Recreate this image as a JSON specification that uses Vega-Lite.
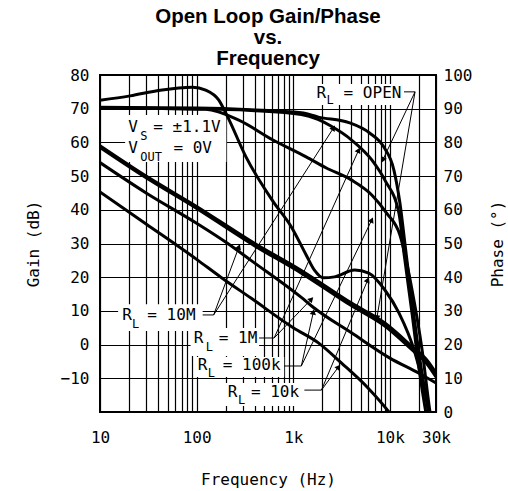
{
  "$schema": "https://vega.github.io/schema/vega-lite/v6.json",
  "width": 336,
  "height": 337,
  "autosize": {"type": "none"},
  "padding": {"left": 100, "top": 75, "right": 72, "bottom": 79},
  "background": "white",
  "config": {
    "view": {"stroke": "black", "strokeWidth": 2},
    "font": "DejaVu Sans Mono"
  },
  "title": {
    "text": ["Open Loop Gain/Phase", "vs.", "Frequency"],
    "font": "Liberation Sans",
    "fontSize": 20.5,
    "fontWeight": "bold",
    "lineHeight": 21,
    "offset": -2,
    "color": "black",
    "anchor": "middle"
  },
  "datasets": {
    "gain": [
      {"id": "10M", "f": 10, "g": 59}, {"id": "10M", "f": 30, "g": 50}, {"id": "10M", "f": 100, "g": 41},
      {"id": "10M", "f": 400, "g": 30}, {"id": "10M", "f": 1212, "g": 22}, {"id": "10M", "f": 4018, "g": 12.3},
      {"id": "10M", "f": 8870, "g": 6.4}, {"id": "10M", "f": 17000, "g": -0.6}, {"id": "10M", "f": 24000, "g": -4.5},
      {"id": "10M", "f": 30000, "g": -8.4},
      {"id": "1M", "f": 10, "g": 58.5}, {"id": "1M", "f": 30, "g": 49.5}, {"id": "1M", "f": 100, "g": 40.4},
      {"id": "1M", "f": 400, "g": 29.3}, {"id": "1M", "f": 1212, "g": 21.2}, {"id": "1M", "f": 4018, "g": 11.5},
      {"id": "1M", "f": 8870, "g": 5.5}, {"id": "1M", "f": 17000, "g": -1.6}, {"id": "1M", "f": 24000, "g": -5.6},
      {"id": "1M", "f": 30000, "g": -9.6},
      {"id": "100k", "f": 10, "g": 54}, {"id": "100k", "f": 30, "g": 45}, {"id": "100k", "f": 100, "g": 36},
      {"id": "100k", "f": 210, "g": 30}, {"id": "100k", "f": 365, "g": 25}, {"id": "100k", "f": 1212, "g": 14},
      {"id": "100k", "f": 1620, "g": 11}, {"id": "100k", "f": 4000, "g": 3.5}, {"id": "100k", "f": 10000, "g": -4},
      {"id": "100k", "f": 20000, "g": -8.5}, {"id": "100k", "f": 30000, "g": -11.4},
      {"id": "10k", "f": 10, "g": 45.3}, {"id": "10k", "f": 30, "g": 35.8}, {"id": "10k", "f": 100, "g": 25.3},
      {"id": "10k", "f": 178, "g": 20}, {"id": "10k", "f": 365, "g": 13.8}, {"id": "10k", "f": 1000, "g": 5},
      {"id": "10k", "f": 1820, "g": 0.5}, {"id": "10k", "f": 3162, "g": -5.5}, {"id": "10k", "f": 6000, "g": -13},
      {"id": "10k", "f": 9770, "g": -20}, {"id": "10k", "f": 11000, "g": -22}
    ],
    "phase": [
      {"id": "10k", "f": 10, "phase": 92.5}, {"id": "10k", "f": 20.5, "phase": 93.8}, {"id": "10k", "f": 42, "phase": 95.5},
      {"id": "10k", "f": 91, "phase": 96.4}, {"id": "10k", "f": 124, "phase": 95.5}, {"id": "10k", "f": 169, "phase": 92.6},
      {"id": "10k", "f": 210, "phase": 87.5}, {"id": "10k", "f": 324, "phase": 75.7}, {"id": "10k", "f": 617, "phase": 62.5},
      {"id": "10k", "f": 953, "phase": 55}, {"id": "10k", "f": 1360, "phase": 46.6}, {"id": "10k", "f": 1656, "phase": 42.1},
      {"id": "10k", "f": 2053, "phase": 39.8}, {"id": "10k", "f": 2674, "phase": 40.1}, {"id": "10k", "f": 4318, "phase": 42.1},
      {"id": "10k", "f": 6040, "phase": 41.2}, {"id": "10k", "f": 8870, "phase": 36.2}, {"id": "10k", "f": 12400, "phase": 29.4},
      {"id": "10k", "f": 18200, "phase": 17.5}, {"id": "10k", "f": 23170, "phase": 5.6}, {"id": "10k", "f": 25500, "phase": 0},
      {"id": "10k", "f": 26500, "phase": -3},
      {"id": "OPEN", "f": 10, "phase": 90.4}, {"id": "OPEN", "f": 100, "phase": 90.2}, {"id": "OPEN", "f": 365, "phase": 89.7},
      {"id": "OPEN", "f": 1212, "phase": 88.8}, {"id": "OPEN", "f": 1821, "phase": 87.5}, {"id": "OPEN", "f": 3828, "phase": 85.8},
      {"id": "OPEN", "f": 6161, "phase": 82.8}, {"id": "OPEN", "f": 8660, "phase": 78.6}, {"id": "OPEN", "f": 11000, "phase": 71.8},
      {"id": "OPEN", "f": 12700, "phase": 62}, {"id": "OPEN", "f": 14300, "phase": 50}, {"id": "OPEN", "f": 16900, "phase": 33},
      {"id": "OPEN", "f": 20500, "phase": 15.4}, {"id": "OPEN", "f": 25000, "phase": 0}, {"id": "OPEN", "f": 26000, "phase": -3},
      {"id": "10M", "f": 10, "phase": 90.2}, {"id": "10M", "f": 100, "phase": 90}, {"id": "10M", "f": 365, "phase": 89.5},
      {"id": "10M", "f": 1212, "phase": 88.3}, {"id": "10M", "f": 1800, "phase": 86.8}, {"id": "10M", "f": 2400, "phase": 85},
      {"id": "10M", "f": 4018, "phase": 80.7}, {"id": "10M", "f": 6494, "phase": 74.8}, {"id": "10M", "f": 8870, "phase": 68.8},
      {"id": "10M", "f": 12400, "phase": 59}, {"id": "10M", "f": 14000, "phase": 47}, {"id": "10M", "f": 17000, "phase": 29},
      {"id": "10M", "f": 20000, "phase": 13}, {"id": "10M", "f": 23500, "phase": 0}, {"id": "10M", "f": 24500, "phase": -3},
      {"id": "100k", "f": 10, "phase": 90.3}, {"id": "100k", "f": 124, "phase": 89.8}, {"id": "100k", "f": 273, "phase": 86.6},
      {"id": "100k", "f": 617, "phase": 80.7}, {"id": "100k", "f": 1360, "phase": 75.7}, {"id": "100k", "f": 2200, "phase": 72.4},
      {"id": "100k", "f": 4018, "phase": 68.8}, {"id": "100k", "f": 6494, "phase": 64.4}, {"id": "100k", "f": 9250, "phase": 59},
      {"id": "100k", "f": 12700, "phase": 52.5}, {"id": "100k", "f": 16950, "phase": 36.2}, {"id": "100k", "f": 21540, "phase": 18.4},
      {"id": "100k", "f": 26000, "phase": 0}, {"id": "100k", "f": 27000, "phase": -3}
    ],
    "boxes": [
      {"f": 18.2, "f2": 203, "g": 54.2, "g2": 68.1},
      {"f": 1656, "f2": 14000, "g": 71.1, "g2": 77.3},
      {"f": 15.4, "f2": 115.5, "g": 4.0, "g2": 12.0},
      {"f": 86.6, "f2": 443, "g": -3.4, "g2": 4.9},
      {"f": 97.1, "f2": 806, "g": -9.6, "g2": -3.7},
      {"f": 195.7, "f2": 1303, "g": -18.2, "g2": -11.4}
    ],
    "leaders": [
      {"f": 115.5, "g": 8.8, "f2": 150, "g2": 8.8},
      {"f": 443, "g": 1.96, "f2": 634, "g2": 1.96},
      {"f": 806, "g": -6.35, "f2": 1212, "g2": -6.35},
      {"f": 1303, "g": -13.5, "f2": 1957, "g2": -13.5},
      {"f": 14000, "g": 75, "f2": 18200, "g2": 75}
    ],
    "arrows": [
      {"f": 274, "g": 29.0, "f2": 150, "g2": 8.8},
      {"f": 2610, "g": 64.3, "f2": 150, "g2": 8.8},
      {"f": 1540, "g": 13.5, "f2": 634, "g2": 1.96},
      {"f": 4750, "g": 57.7, "f2": 634, "g2": 1.96},
      {"f": 1615, "g": 9.7, "f2": 1212, "g2": -6.35},
      {"f": 6494, "g": 37.0, "f2": 1212, "g2": -6.35},
      {"f": 2944, "g": -6.6, "f2": 1957, "g2": -13.5},
      {"f": 5900, "g": 19.2, "f2": 1957, "g2": -13.5},
      {"f": 8450, "g": 54.8, "f2": 18200, "g2": 75},
      {"f": 7330, "g": 7.9, "f2": 18200, "g2": 75}
    ],
    "labels": [
      {"t": "V", "f": 19.6, "g": 63.1}, {"t": "= ±1.1V", "f": 35.6, "g": 63.1},
      {"t": "V", "f": 19.6, "g": 56.9}, {"t": "= 0V", "f": 57.5, "g": 56.9},
      {"t": "R", "f": 1738, "g": 73.2}, {"t": "= OPEN", "f": 3318, "g": 73.2},
      {"t": "R", "f": 16.96, "g": 7.3}, {"t": "= 10M", "f": 30.9, "g": 7.3},
      {"t": "R", "f": 93.1, "g": 0.47}, {"t": "= 1M", "f": 169.5, "g": 0.47},
      {"t": "R", "f": 102.4, "g": -7.5}, {"t": "= 100k", "f": 186.7, "g": -7.5},
      {"t": "R", "f": 210.4, "g": -15.5}, {"t": "= 10k", "f": 365, "g": -15.5}
    ],
    "subs": [
      {"t": "S", "f": 26.1, "g": 60.7},
      {"t": "OUT", "f": 26.1, "g": 54.5},
      {"t": "L", "f": 2208, "g": 71.4},
      {"t": "L", "f": 21.5, "g": 4.9},
      {"t": "L", "f": 124, "g": -1.9},
      {"t": "L", "f": 130.2, "g": -9.6},
      {"t": "L", "f": 267.4, "g": -17.6}
    ]
  },
  "layer": [
    {
      "encoding": {
        "x": {
          "field": "f", "type": "quantitative",
          "scale": {"type": "log", "domain": [10, 30000], "nice": false},
          "axis": {
            "values": [10, 20, 30, 40, 50, 60, 70, 80, 90, 100, 200, 300, 400, 500, 600, 700, 800, 900, 1000, 2000, 3000, 4000, 5000, 6000, 7000, 8000, 9000, 10000, 20000, 30000],
            "grid": true, "gridColor": "black", "gridWidth": 1.2, "gridOpacity": 1,
            "ticks": false, "tickSize": 0, "domain": false,
            "labelExpr": "datum.value == 10 ? '10' : datum.value == 100 ? '100' : datum.value == 1000 ? '1k' : datum.value == 10000 ? '10k' : datum.value == 30000 ? '30k' : ''",
            "labelFont": "DejaVu Sans Mono", "labelFontSize": 16, "labelColor": "black",
            "labelPadding": 17, "labelFlush": false, "labelOverlap": false, "labelBound": false,
            "title": "Frequency (Hz)", "titleFont": "DejaVu Sans Mono", "titleFontSize": 16,
            "titleFontWeight": "normal", "titleColor": "black", "titlePadding": 26
          }
        },
        "y": {
          "field": "g", "type": "quantitative",
          "scale": {"domain": [-20, 80], "nice": false, "zero": false},
          "axis": {
            "orient": "left",
            "values": [-20, -10, 0, 10, 20, 30, 40, 50, 60, 70, 80],
            "grid": true, "gridColor": "black", "gridWidth": 1.2, "gridOpacity": 1,
            "ticks": false, "tickSize": 0, "domain": false,
            "labelExpr": "datum.value == -20 ? '' : datum.label",
            "labelFont": "DejaVu Sans Mono", "labelFontSize": 16, "labelColor": "black",
            "labelPadding": 11, "labelFlush": false, "labelOverlap": false,
            "title": "Gain (dB)", "titleFont": "DejaVu Sans Mono", "titleFontSize": 16,
            "titleFontWeight": "normal", "titleColor": "black", "titlePadding": 19
          }
        }
      },
      "layer": [
        {
          "data": {"name": "boxes"},
          "mark": {"type": "rect", "fill": "white"},
          "encoding": {"x2": {"field": "f2"}, "y2": {"field": "g2"}}
        },
        {
          "data": {"name": "gain"},
          "mark": {"type": "line", "stroke": "black", "strokeWidth": 3, "interpolate": "monotone", "clip": true},
          "encoding": {"detail": {"field": "id"}}
        },
        {
          "data": {"name": "leaders"},
          "mark": {"type": "rule", "stroke": "black", "strokeWidth": 1},
          "encoding": {"x2": {"field": "f2"}, "y2": {"field": "g2"}}
        },
        {
          "data": {"name": "arrows"},
          "mark": {"type": "rule", "stroke": "black", "strokeWidth": 1},
          "encoding": {"x2": {"field": "f2"}, "y2": {"field": "g2"}}
        },
        {
          "data": {"name": "arrows"},
          "transform": [
            {"calculate": "atan2(96.6 * (log(datum.f) - log(datum.f2)) / LN10, 3.37 * (datum.g - datum.g2)) * 180 / PI", "as": "ang"}
          ],
          "mark": {"type": "point", "shape": "triangle-up", "filled": true, "fill": "black", "stroke": null, "size": 40, "opacity": 1},
          "encoding": {"angle": {"field": "ang", "type": "quantitative", "scale": null}}
        },
        {
          "data": {"name": "labels"},
          "mark": {"type": "text", "align": "left", "baseline": "alphabetic", "font": "DejaVu Sans Mono", "fontSize": 16, "fill": "black"},
          "encoding": {"text": {"field": "t"}}
        },
        {
          "data": {"name": "subs"},
          "mark": {"type": "text", "align": "left", "baseline": "alphabetic", "font": "DejaVu Sans Mono", "fontSize": 12, "fill": "black"},
          "encoding": {"text": {"field": "t"}}
        }
      ]
    },
    {
      "data": {"name": "phase"},
      "mark": {"type": "line", "stroke": "black", "strokeWidth": 3, "interpolate": "monotone", "clip": true},
      "encoding": {
        "x": {"field": "f", "type": "quantitative", "scale": {"type": "log", "domain": [10, 30000], "nice": false}},
        "y": {
          "field": "phase", "type": "quantitative",
          "scale": {"domain": [0, 100], "nice": false},
          "axis": {
            "orient": "right",
            "values": [0, 10, 20, 30, 40, 50, 60, 70, 80, 90, 100],
            "grid": false, "ticks": false, "tickSize": 0, "domain": false,
            "labelFont": "DejaVu Sans Mono", "labelFontSize": 16, "labelColor": "black",
            "labelPadding": 7, "labelFlush": false, "labelOverlap": false,
            "title": "Phase (°)", "titleFont": "DejaVu Sans Mono", "titleFontSize": 16,
            "titleFontWeight": "normal", "titleColor": "black", "titlePadding": 34, "titleAngle": 270
          }
        },
        "detail": {"field": "id"}
      }
    }
  ],
  "resolve": {"scale": {"y": "independent"}, "axis": {"y": "independent"}}
}
